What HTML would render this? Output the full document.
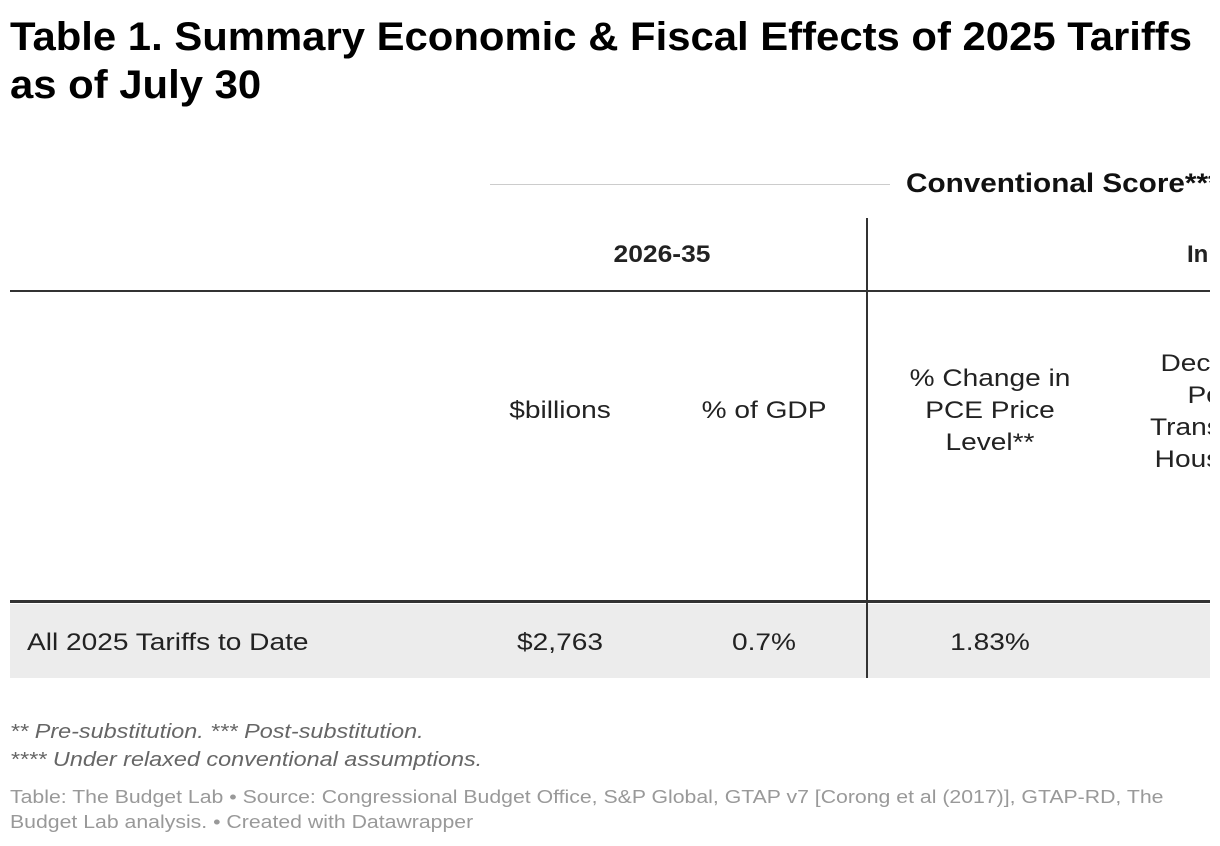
<!DOCTYPE html>
<html><head><meta charset="utf-8"><style>
body{margin:0;width:1220px;height:846px;background:#fff;font-family:"Liberation Sans",sans-serif;overflow:hidden;position:relative}
.a{position:absolute;white-space:nowrap}
.l{transform-origin:0 0;transform:scaleX(1.17)}
.c{transform:translateX(-50%) scaleX(1.17)}
.h{font-size:24px;color:#222;line-height:32px}
</style></head><body>
<div class="a" style="left:10px;top:13px;font-size:40px;font-weight:bold;line-height:48px;color:#000;transform-origin:0 0;transform:scaleX(1.046)">Table 1. Summary Economic &amp; Fiscal Effects of 2025 Tariffs<br>as of July 30</div>
<div style="position:absolute;left:10px;top:0;width:1200px;height:846px;overflow:hidden">
 <div class="a" style="left:480px;top:184px;width:400px;height:1px;background:#ccc"></div>
 <div class="a" style="left:896px;top:168px;font-size:27px;font-weight:bold;color:#111;transform-origin:0 0;transform:scaleX(1.1)">Conventional Score***</div>
 <div class="a" style="left:856px;top:218px;width:2px;height:460px;background:#333"></div>
 <div class="a h" style="left:652px;top:239px;font-weight:bold;transform:translateX(-50%) scaleX(1.1)">2026-35</div>
 <div class="a h" style="left:1177px;top:239px;font-weight:bold">In</div>
 <div class="a" style="left:0;top:290px;width:1200px;height:2px;background:#333"></div>
 <div class="a c h" style="left:550px;top:395px">$billions</div>
 <div class="a c h" style="left:754px;top:395px">% of GDP</div>
 <div class="a c h" style="left:980px;top:363px;text-align:center">% Change in<br>PCE Price<br>Level**</div>
 <div class="a h l" style="left:1140px;top:348px">
  <div style="margin-left:9px">Decline in</div><div style="margin-left:32px">Post-</div><div>Transfer</div><div style="margin-left:4px">Household</div></div>
 <div class="a" style="left:0;top:600px;width:1200px;height:3px;background:#333"></div>
 <div class="a" style="left:0;top:604px;width:1200px;height:74px;background:#ececec"></div>
 <div class="a" style="left:856px;top:604px;width:2px;height:74px;background:#333"></div>
 <div class="a h l" style="left:17px;top:627px">All 2025 Tariffs to Date</div>
 <div class="a c h" style="left:550px;top:627px">$2,763</div>
 <div class="a c h" style="left:754px;top:627px">0.7%</div>
 <div class="a c h" style="left:980px;top:627px">1.83%</div>
 <div class="a l" style="left:0;top:718px;font-size:20px;font-style:italic;color:#666;line-height:28px">** Pre-substitution. *** Post-substitution.<br>**** Under relaxed conventional assumptions.</div>
 <div class="a" style="left:0;top:785px;font-size:18px;color:#999;line-height:25px;transform-origin:0 0;transform:scaleX(1.18)">Table: The Budget Lab • Source: Congressional Budget Office, S&amp;P Global, GTAP v7 [Corong et al (2017)], GTAP-RD, The<br>Budget Lab analysis. • Created with Datawrapper</div>
</div>
</body></html>
